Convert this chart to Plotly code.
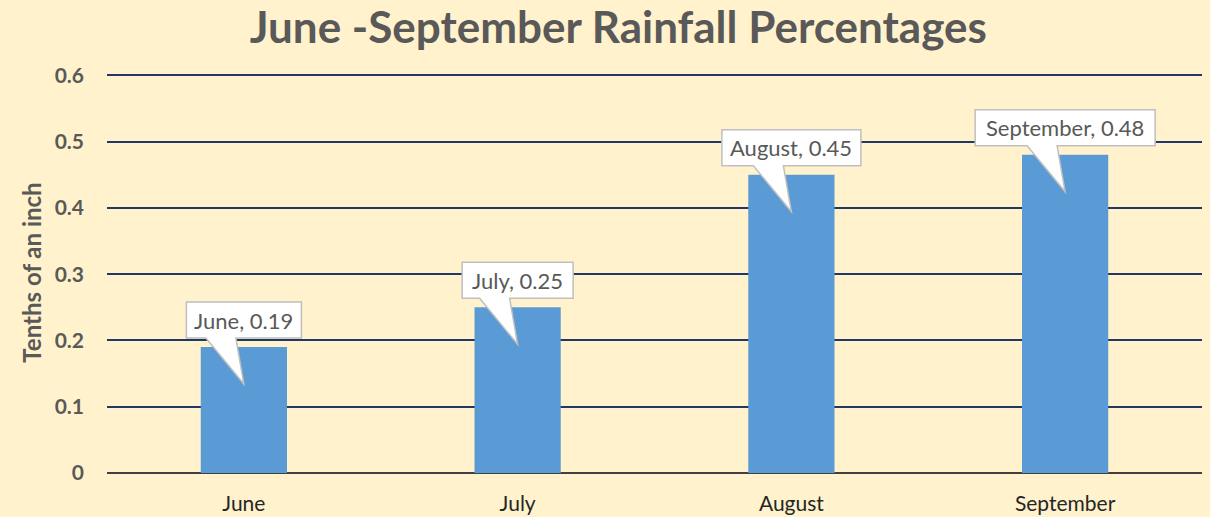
import plotly.graph_objects as go

months = ["June", "July", "August", "September"]
rainfall = [0.19, 0.25, 0.45, 0.48]
y_ticks = [0, 0.1, 0.2, 0.3, 0.4, 0.5, 0.6]
y_tick_text = ["0", "0.1", "0.2", "0.3", "0.4", "0.5", "0.6"]

# callout box widths in pixels (style)
box_w = [115, 111, 139, 180]

BG = "#FFF2CC"
FONT = "Lato, Calibri, 'Open Sans', sans-serif"

fig = go.Figure()
fig.add_trace(go.Bar(
    x=list(range(len(months))), y=rainfall,
    marker=dict(color="#5B9BD5", line=dict(width=0)),
    width=0.315, hoverinfo="skip",
))

shapes = []
annotations = []
for i, (m, v) in enumerate(zip(months, rainfall)):
    w = box_w[i]
    hl = -w / 2
    hr = w / 2
    bot = 9
    top = 45
    path = (f"M {hl},{bot} L {hl},{top} L {hr},{top} L {hr},{bot} "
            f"L -8,{bot} L 0,-37 L -38,{bot} Z")
    shapes.append(dict(
        type="path", xref="x", yref="y",
        xsizemode="pixel", ysizemode="pixel",
        xanchor=i, yanchor=v, path=path,
        fillcolor="white", line=dict(color="#BFBFBF", width=1.5),
        layer="above",
    ))
    annotations.append(dict(
        x=i, y=v, xref="x", yref="y", text=f"{m}, {v:.2f}",
        showarrow=False, yshift=27, xanchor="center", yanchor="middle",
        font=dict(family=FONT, size=22, color="#595959"),
    ))

fig.update_layout(
    width=1210, height=517,
    paper_bgcolor=BG, plot_bgcolor=BG,
    margin=dict(l=107, r=8, t=72, b=44, autoexpand=False),
    showlegend=False,
    title=dict(text="<b>June -September Rainfall Percentages</b>",
               x=0.511, xanchor="center", y=0.947, yanchor="middle",
               font=dict(family=FONT, size=44, color="#595959")),
    xaxis=dict(
        tickmode="array", tickvals=list(range(len(months))), ticktext=months,
        range=[-0.5, 3.5], showgrid=False, zeroline=False,
        showline=False, ticks="",
        tickfont=dict(family=FONT, size=21, color="#262626"),
        ticklabelstandoff=16,
    ),
    yaxis=dict(
        range=[0, 0.605], tickmode="array", tickvals=y_ticks, ticktext=y_tick_text,
        showgrid=True, gridcolor="#1F3864", gridwidth=2,
        zeroline=True, zerolinecolor="#404040", zerolinewidth=2,
        showline=False, ticks="",
        tickfont=dict(family=FONT, size=21, color="#595959", weight="bold"),
        ticklabelstandoff=22,
        title=dict(text="<b>Tenths of an inch</b>", standoff=6,
                   font=dict(family=FONT, size=24, color="#595959")),
    ),
    shapes=shapes,
    annotations=annotations,
)

fig.write_html(
    "out.html",
    config={"displayModeBar": False},
    post_script="document.body.style.margin='0';document.body.style.background='#FFF2CC';window.dispatchEvent(new Event('resize'));",
)
